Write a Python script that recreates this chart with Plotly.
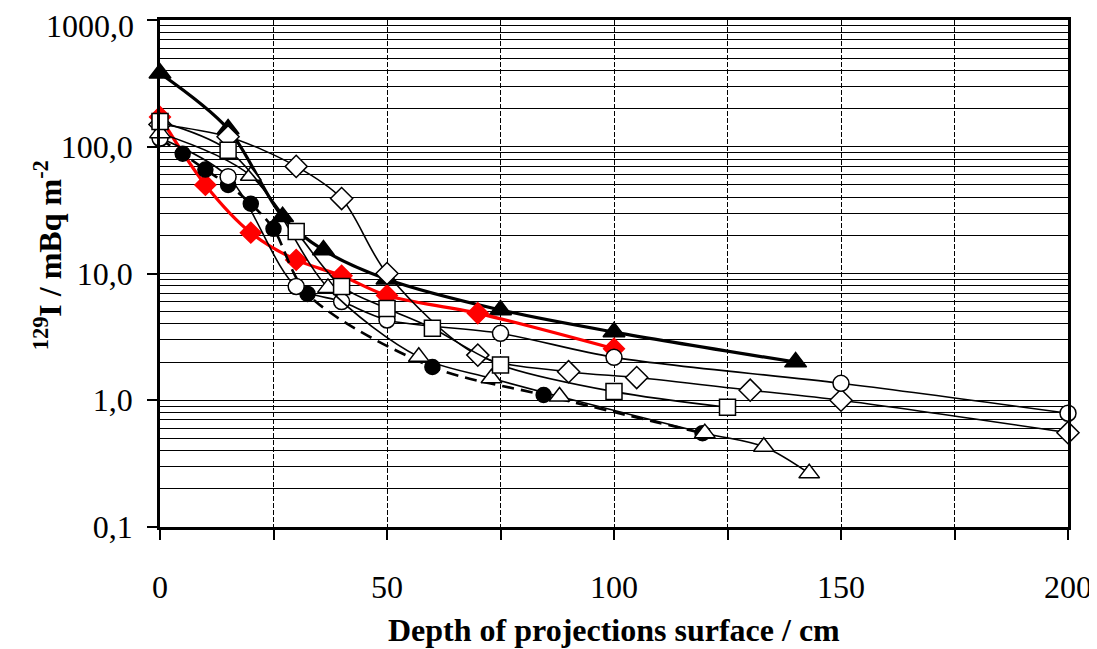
import plotly.graph_objects as go

# ---- data (depth in cm, 129I in mBq m^-2) ----
tri_filled_x = [0, 15, 27, 36, 50, 75, 100, 140]
tri_filled_y = [380, 138, 28, 15.3, 9.0, 5.15, 3.45, 2.0]

red_x = [0, 10, 20, 30, 40, 50, 70, 100]
red_y = [172, 50, 21, 12.8, 9.6, 6.7, 4.85, 2.55]

circ_filled_x = [0, 5, 10, 15, 20, 25, 32.5, 60, 84.5, 119.5]
circ_filled_y = [115, 88, 66, 50, 35.5, 22.5, 6.9, 1.83, 1.1, 0.55]

diam_x = [0, 15, 30, 40, 50, 70, 90, 105, 130, 150, 200]
diam_y = [150, 120, 70, 39, 10, 2.27, 1.68, 1.51, 1.2, 1.0, 0.555]

circ_open_x = [0, 15, 30, 40, 50, 75, 100, 150, 200]
circ_open_y = [117, 58, 7.9, 6.0, 4.3, 3.37, 2.18, 1.36, 0.79]

tri_open_x = [0, 20, 37, 57, 73, 88, 120, 133, 143]
tri_open_y = [128, 59, 7.7, 2.2, 1.49, 1.07, 0.55, 0.43, 0.265]

sq_x = [0, 15, 30, 40, 50, 60, 75, 100, 125]
sq_y = [158, 94, 21.4, 7.9, 5.3, 3.7, 1.9, 1.17, 0.88]

x_tick_vals = [0, 25, 50, 75, 100, 125, 150, 175, 200]
x_tick_text = ["0", " ", "50", " ", "100", " ", "150", " ", "200"]
y_tick_vals = [0.1, 1, 10, 100, 1000]
y_tick_text = ["0,1", "1,0", "10,0", "100,0", " "]
y_top_label = "1000,0"
y_minor_vals = [k * 10.0 ** e for e in range(-1, 3) for k in range(2, 10)]

FONT = "Times New Roman, Times, Liberation Serif, Tinos, DejaVu Serif, serif"

fig = go.Figure()

def add(x, y, symbol, size, fill, lcolor, lwidth, dash="solid", mline=1.5):
    fig.add_trace(go.Scatter(
        x=x, y=y, mode="lines+markers",
        line=dict(color=lcolor, width=lwidth, dash=dash, shape="spline", smoothing=0.9),
        marker=dict(symbol=symbol, size=size, color=fill,
                    line=dict(color=lcolor if fill != "white" else "black", width=mline)),
        showlegend=False, cliponaxis=False,
    ))

add(tri_filled_x, tri_filled_y, "triangle-up", 19, "black", "black", 3.2)
add(red_x, red_y, "diamond", 16, "red", "red", 3.2)
add(circ_filled_x, circ_filled_y, "circle", 15, "black", "black", 2.6, dash="12px,7px")
add(diam_x, diam_y, "diamond", 17, "white", "black", 1.6)
add(circ_open_x, circ_open_y, "circle", 16, "white", "black", 1.6)
add(tri_open_x, tri_open_y, "triangle-up", 18, "white", "black", 1.6)
add(sq_x, sq_y, "square", 16, "white", "black", 1.6)

fig.update_layout(
    width=1097, height=649,
    margin=dict(l=152, r=37, t=12, b=130, autoexpand=False),
    paper_bgcolor="white", plot_bgcolor="white",
    font=dict(family=FONT, color="black", size=32),
    xaxis=dict(
        range=[0, 200], tickmode="array", tickvals=x_tick_vals, ticktext=x_tick_text,
        ticks="outside", ticklen=10, tickwidth=1.5, tickcolor="black",
        showgrid=True, gridcolor="black", gridwidth=1, griddash="5px,2px",
        showline=True, linecolor="black", linewidth=2.5, mirror=True, zeroline=False,
        tickfont=dict(size=32, family=FONT), ticklabelstandoff=20, automargin=False,
        ticklabeloverflow="allow",
    ),
    yaxis=dict(
        type="log", range=[-1, 3], tickmode="array", tickvals=y_tick_vals, ticktext=y_tick_text,
        ticks="outside", ticklen=10, tickwidth=1.5, tickcolor="black",
        showgrid=True, gridcolor="black", gridwidth=1,
        minor=dict(tickmode="array", tickvals=y_minor_vals, showgrid=True,
                   gridcolor="black", gridwidth=1, ticks=""),
        showline=True, linecolor="black", linewidth=2.5, mirror=True, zeroline=False,
        tickfont=dict(size=32, family=FONT), ticklabelstandoff=8, automargin=False,
        ticklabeloverflow="allow",
    ),
    annotations=[
        dict(text=y_top_label, xref="paper", yref="y", x=0, y=3,
             xanchor="right", yanchor="middle", xshift=-24, yshift=-6,
             showarrow=False, font=dict(size=32, family=FONT)),
        dict(text="<b><sup>129</sup>I / mBq m<sup>-2</sup></b>", textangle=-90,
             xref="paper", yref="paper", x=0, y=0.536, xanchor="center", yanchor="middle",
             xshift=-112, showarrow=False, font=dict(size=32, family=FONT)),
        dict(text="<b>Depth of projections surface / cm</b>",
             xref="paper", yref="paper", x=0.5, y=0, xanchor="center", yanchor="middle",
             yshift=-103, showarrow=False, font=dict(size=32, family=FONT)),
    ],
)

fig.write_html("out.html")
